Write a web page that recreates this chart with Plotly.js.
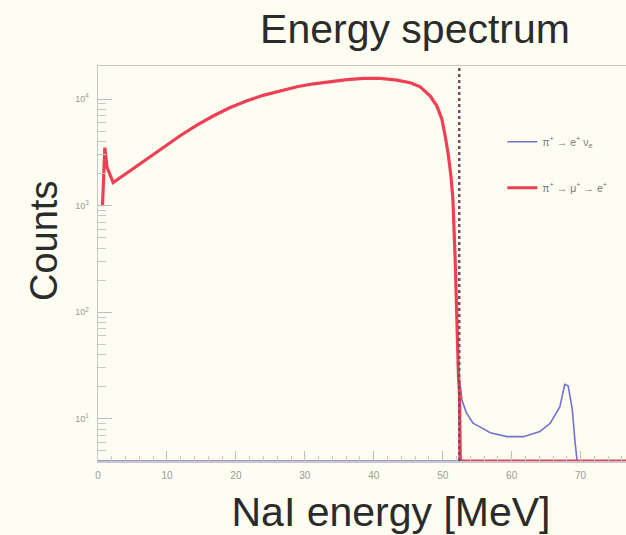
<!DOCTYPE html>
<html>
<head>
<meta charset="utf-8">
<script src="https://cdn.plot.ly/plotly-3.0.1.min.js"></script>
<style>
  html, body { margin: 0; padding: 0; background: #fdfdf1; overflow: hidden; width: 626px; height: 535px; }
  #chart { width: 760px; height: 535px; }
</style>
</head>
<body>
<div id="chart"></div>
<script>
// ---- data ----
const seriesNames = ["π<sup>+</sup> → e<sup>+</sup> ν<sub>e</sub>", "π<sup>+</sup> → μ<sup>+</sup> → e<sup>+</sup>"];

// pi -> e nu (blue)
const blueEnergy = [0, 52.4, 52.5, 52.8, 53.4, 54.4, 55.4, 56.9, 59.3, 61.7, 64.1, 65.6, 67.0, 67.7, 68.2, 68.8, 69.2, 69.5, 85];
const blueCounts = [0, 0, 21.9, 15, 11.5, 9.1, 8.4, 7.4, 6.8, 6.8, 7.6, 9.1, 13, 21, 20.4, 12.2, 6, 0, 0];

// pi -> mu -> e (red)
const redEnergy = [0.65, 0.99, 1.3, 2.2, 4.61, 7.03, 9.42, 11.86, 14.28, 16.70, 19.10, 21.52, 23.94, 26.6, 28.87, 31.28, 33.70, 36.12, 38.52, 40.94, 43.36, 45.29, 46.74, 48.19, 49.16, 49.88, 50.36, 50.84, 51.19, 51.48, 51.81, 52.06, 52.29, 52.43, 52.55, 85];
const redCounts  = [990, 3500, 2300, 1644, 2115, 2722, 3500, 4500, 5670, 6930, 8290, 9580, 10830, 12080, 13030, 13900, 14660, 15240, 15600, 15630, 15070, 14220, 13040, 10670, 8590, 6460, 4500, 2920, 1900, 1150, 310, 73, 25, 17.5, 0, 0];

// cut position (dotted line)
const cutEnergy = [52.4];

// axis ticks
const xTickVals = [0, 10, 20, 30, 40, 50, 60, 70];
const yTickVals = [10, 100, 1000, 10000];
const yTickText = ["10<sup>1</sup>", "10<sup>2</sup>", "10<sup>3</sup>", "10<sup>4</sup>"];
const xRange = [0, 85];
const yLogRange = [0.604, 4.31];

// ---- build ----
const floorVal = Math.pow(10, yLogRange[0]);
const toPlot = arr => arr.map(v => (v > 0 ? v : floorVal));

const yMinor = [];
for (let d = 0; d <= 4; d++) {
  for (let m = 2; m <= 9; m++) {
    const v = m * Math.pow(10, d);
    if (Math.log10(v) > yLogRange[0] && Math.log10(v) < yLogRange[1]) yMinor.push(v);
  }
}

const traces = [
  {
    x: blueEnergy, y: toPlot(blueCounts), type: 'scatter', mode: 'lines',
    name: seriesNames[0], legendgroup: 'a',
    line: { color: '#7272d2', width: 1.6 }
  },
  {
    x: redEnergy, y: toPlot(redCounts), type: 'scatter', mode: 'lines',
    name: seriesNames[1], legendgroup: 'b',
    line: { color: '#ee3f55', width: 3.2 }
  }
];

const FONT = 'Liberation Sans, Arial, sans-serif';
const axisFont = { family: FONT, size: 10, color: '#9a9a9a' };

const layout = {
  width: 760, height: 535,
  paper_bgcolor: '#fdfdf1', plot_bgcolor: '#fdfdf1',
  margin: { l: 98, r: 76, t: 66, b: 74 },
  title: {
    text: 'Energy spectrum',
    font: { family: FONT, size: 41, color: '#2b2b2b' },
    x: 415 / 760, xref: 'container', xanchor: 'center',
    y: 1 - 29 / 535, yref: 'container', yanchor: 'middle'
  },
  xaxis: {
    range: xRange, showgrid: false, zeroline: false,
    showline: true, mirror: true, linecolor: '#c8c8c8', linewidth: 1.5,
    ticks: 'inside', ticklen: 10, tickcolor: '#bdbdbd', tickwidth: 1,
    tickvals: xTickVals, tickfont: axisFont, ticklabelstandoff: 4,
    minor: { dtick: 2, tick0: 0, ticks: 'inside', ticklen: 5, tickcolor: '#c8c8c8' },
    title: { text: 'NaI energy [MeV]', font: { family: FONT, size: 41, color: '#2b2b2b' }, standoff: 20 },
    automargin: false
  },
  yaxis: {
    type: 'log', range: yLogRange, showgrid: false, zeroline: false,
    showline: true, mirror: true, linecolor: '#c8c8c8', linewidth: 1.5,
    ticks: 'inside', ticklen: 14, tickcolor: '#bdbdbd', tickwidth: 1,
    tickvals: yTickVals, ticktext: yTickText, ticklabelstandoff: 6,
    tickfont: { family: FONT, size: 9, color: '#9a9a9a' },
    minor: { tickvals: yMinor, ticks: 'inside', ticklen: 8, tickcolor: '#c8c8c8' },
    automargin: false
  },
  annotations: [{
    text: 'Counts', textangle: -90, showarrow: false,
    xref: 'paper', yref: 'paper', x: (44 - 98) / 586, y: (461 - 241) / 395,
    xanchor: 'center', yanchor: 'middle',
    font: { family: FONT, size: 38, color: '#2b2b2b' }
  }],
  shapes: [{
    type: 'line', xref: 'x', yref: 'paper',
    x0: cutEnergy[0], x1: cutEnergy[0], y0: 0, y1: 1,
    line: { color: '#7d4a66', width: 2.5, dash: 'dot' }, layer: 'above'
  }],
  showlegend: true,
  legend: {
    x: 0.69, y: 0.845, xanchor: 'left', yanchor: 'top',
    bgcolor: 'rgba(0,0,0,0)', borderwidth: 0,
    font: { family: FONT, size: 10.5, color: '#7a7a7a' },
    traceorder: 'grouped', tracegroupgap: 27, itemwidth: 30
  }
};

Plotly.newPlot('chart', traces, layout, { displayModeBar: false, staticPlot: true });
</script>
</body>
</html>
